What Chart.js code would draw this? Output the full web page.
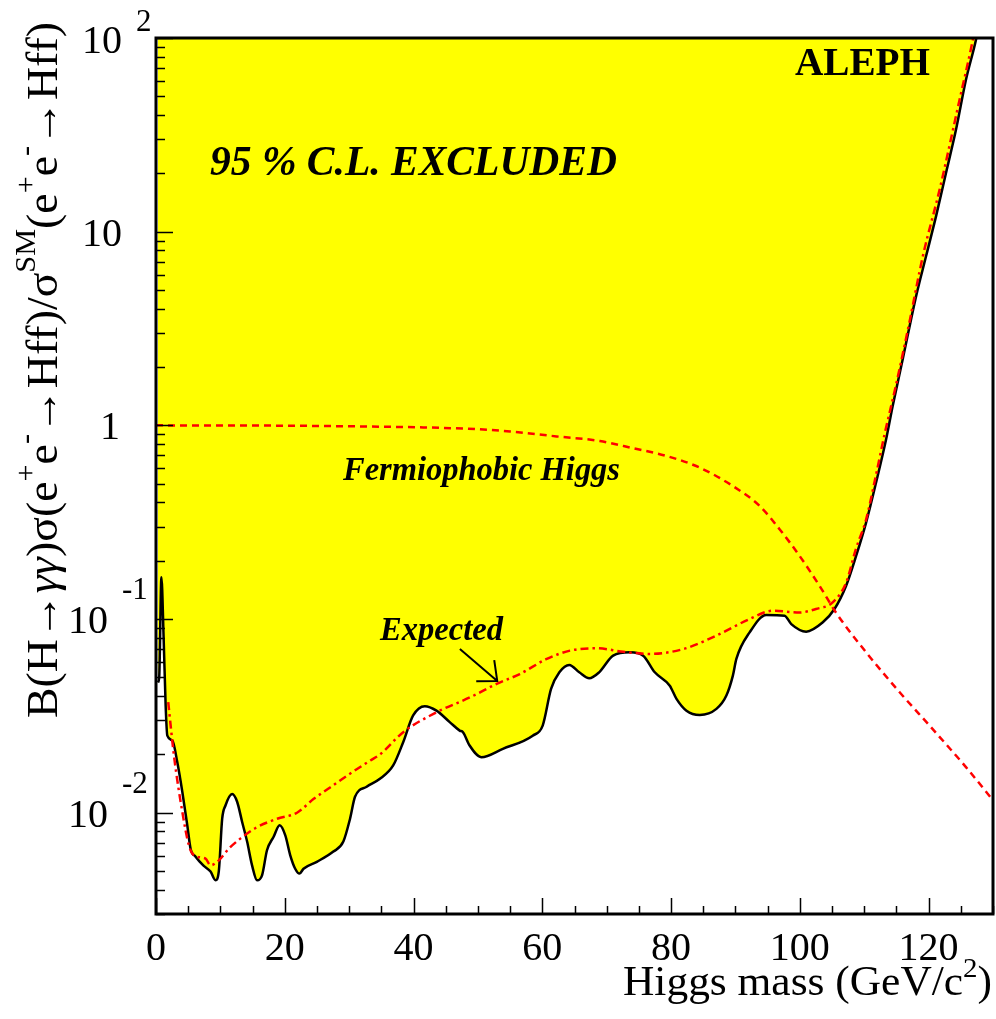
<!DOCTYPE html>
<html>
<head>
<meta charset="utf-8">
<script src="https://cdn.jsdelivr.net/npm/chart.js@4.4.1/dist/chart.umd.min.js"></script>
<style>
html,body{margin:0;padding:0;background:#fff;}
#wrap{width:996px;height:1019px;position:relative;}
canvas{display:block;}
</style>
</head>
<body>
<div id="wrap"><canvas id="c" width="996" height="1019"></canvas></div>
<script>
// ---- data ----
const obsMass = [0.3, 0.5, 0.84, 1.19, 1.5, 1.76, 2.54, 3.31, 4.09, 4.86, 5.37, 6.15, 7.38, 8.47, 9.24, 9.75, 10.28, 10.79, 11.83, 12.6, 13.37, 14.15, 14.92, 15.7, 16.47, 17.24, 18.27, 19.2, 20.08, 20.85, 21.62, 22.29, 22.91, 24.98, 27.55, 29.1, 30.14, 30.91, 32.72, 34.78, 36.84, 38.39, 39.94, 41.75, 43.56, 45.62, 47.17, 47.68, 48.71, 50.52, 53.87, 58.51, 60.06, 61.36, 62.65, 64.19, 65.74, 67.29, 68.83, 71.0, 73.6, 75.66, 77.47, 79.8, 80.84, 82.39, 84.45, 87.04, 88.59, 89.6, 90.14, 92.2, 94.79, 97.63, 98.67, 100.99, 103.57, 105.38, 107.19, 108.74, 110.29, 111.84, 113.4, 114.42, 115.97, 118.05, 119.6, 121.15, 122.7, 124.25, 125.8, 127.35, 128.0];
const obsLimit = [0.047, 0.0502, 0.1644, 0.0789, 0.0356, 0.0250, 0.0236, 0.0182, 0.0128, 0.00861, 0.00652, 0.00593, 0.00533, 0.00497, 0.00448, 0.00497, 0.00931, 0.0109, 0.0125, 0.0114, 0.00899, 0.00710, 0.00535, 0.00448, 0.00475, 0.00640, 0.00752, 0.00861, 0.00764, 0.00603, 0.00514, 0.00485, 0.00514, 0.00558, 0.00630, 0.00710, 0.00931, 0.01208, 0.01361, 0.01496, 0.01754, 0.02312, 0.03177, 0.03548, 0.03365, 0.02938, 0.02655, 0.02606, 0.02223, 0.01936, 0.02138, 0.02500, 0.02818, 0.04355, 0.05309, 0.05794, 0.05309, 0.04943, 0.05309, 0.06471, 0.06730, 0.06471, 0.05309, 0.04529, 0.03873, 0.03365, 0.03199, 0.03436, 0.04027, 0.05105, 0.06223, 0.08531, 0.1050, 0.1040, 0.0942, 0.0861, 0.0962, 0.1127, 0.1486, 0.2118, 0.3148, 0.5070, 0.847, 1.259, 2.188, 4.634, 7.464, 11.99, 20.09, 33.57, 60.81, 97.7, 126];

const expMass = [1.9, 2.79, 4.09, 5.12, 5.89, 7.7, 8.48, 9.77, 11.3, 13.1, 15.46, 18.82, 21.9, 24.5, 27.1, 29.7, 33.3, 34.8, 38.4, 43.6, 48.8, 52.9, 56.5, 60.7, 64.3, 68.4, 72.6, 76.7, 81.9, 87.0, 92.2, 95.8, 99.95, 102.5, 105.1, 107.2, 108.7, 110.3, 111.8, 113.1, 114.9, 117.0, 119.1, 121.7, 124.8, 126.7, 127.5];
const expLimit = [0.0372, 0.01972, 0.01009, 0.00678, 0.00603, 0.00579, 0.00535, 0.00568, 0.00652, 0.00735, 0.00834, 0.00931, 0.0100, 0.01180, 0.01355, 0.01556, 0.01862, 0.0200, 0.02606, 0.03304, 0.03945, 0.04624, 0.05200, 0.06223, 0.06871, 0.07063, 0.06776, 0.06607, 0.06998, 0.08204, 0.1000, 0.1104, 0.1081, 0.1127, 0.1219, 0.1545, 0.2296, 0.3273, 0.5483, 0.881, 1.596, 3.381, 7.464, 16.44, 47.86, 92.0, 126];

const fphMass = [0, 10, 20, 30, 41.5, 50, 55, 62.2, 68.95, 74.1, 79.3, 84.45, 89.6, 93.75, 96.85, 99.95, 103.05, 105.6, 110.3, 115.5, 120.6, 125.8, 130];
const fphBR = [1.0, 0.999, 0.996, 0.989, 0.976, 0.955, 0.93, 0.877, 0.830, 0.762, 0.695, 0.605, 0.486, 0.384, 0.291, 0.212, 0.1486, 0.1081, 0.0673, 0.0419, 0.0271, 0.0172, 0.0116];

const xTickValues = [0, 20, 40, 60, 80, 100, 120];
const xMinorStep = 5;
const yTickExponents = [-2, -1, 0, 1, 2];

// ---- helpers ----
const SERIF = '"Liberation Serif", "Times New Roman", serif';
function fnt(size, style) { return (style ? style + ' ' : '') + size + 'px ' + SERIF; }

function drawRich(ctx, segs, x, y, align, targetLen) {
  let total = 0;
  segs.forEach(s => { ctx.font = fnt(s.size, s.style); s.w = ctx.measureText(s.t).width; total += s.w; });
  ctx.save();
  ctx.translate(x, y);
  let k = 1;
  if (targetLen) { k = targetLen / total; ctx.scale(k, 1); }
  let cx = align === 'right' ? -total : align === 'center' ? -total / 2 : 0;
  ctx.textAlign = 'left';
  ctx.textBaseline = 'alphabetic';
  segs.forEach(s => { ctx.font = fnt(s.size, s.style); ctx.fillText(s.t, cx, -(s.rise || 0)); cx += s.w; });
  ctx.restore();
}

function fitText(ctx, text, font, x, y, targetW) {
  ctx.save();
  ctx.font = font;
  const w = ctx.measureText(text).width;
  ctx.translate(x, y);
  ctx.scale(targetW / w, 1);
  ctx.textAlign = 'left';
  ctx.textBaseline = 'alphabetic';
  ctx.fillText(text, 0, 0);
  ctx.restore();
}

const decor = {
  id: 'decor',
  afterDraw(chart) {
    const ctx = chart.ctx;
    const a = chart.chartArea;
    const xs = chart.scales.x, ys = chart.scales.y;
    ctx.save();
    ctx.fillStyle = '#000';
    ctx.strokeStyle = '#000';

    // ticks (inward)
    ctx.lineWidth = 1.5;
    ctx.beginPath();
    for (let m = xs.min; m <= xs.max + 1e-9; m += xMinorStep) {
      const px = Math.round(xs.getPixelForValue(m)) + 0.5;
      const len = (m % 20 === 0) ? 16 : 8;
      ctx.moveTo(px, a.bottom); ctx.lineTo(px, a.bottom - len);
    }
    for (let e = -3; e <= 2; e++) {
      for (let k = 1; k <= 9; k++) {
        const v = k * Math.pow(10, e);
        if (v < ys.min * 0.999 || v > ys.max * 1.001) continue;
        const py = Math.round(ys.getPixelForValue(v)) + 0.5;
        const len = (k === 1) ? 17 : 9;
        ctx.moveTo(a.left, py); ctx.lineTo(a.left + len, py);
      }
    }
    ctx.stroke();

    // frame
    ctx.lineWidth = 3;
    ctx.strokeRect(a.left, a.top, a.right - a.left, a.bottom - a.top);

    // x tick labels
    ctx.font = fnt(40);
    ctx.textAlign = 'center';
    ctx.textBaseline = 'alphabetic';
    xTickValues.forEach(v => {
      ctx.fillText(String(v), xs.getPixelForValue(v), a.bottom + 46);
    });

    // y tick labels
    yTickExponents.forEach(e => {
      const py = ys.getPixelForValue(Math.pow(10, e));
      ctx.font = fnt(40);
      if (e === 0) {
        ctx.textAlign = 'right';
        ctx.fillText('1', a.left - 36, py + 14);
      } else if (e === 1) {
        ctx.textAlign = 'right';
        ctx.fillText('10', a.left - 34, py + 14);
      } else if (e > 1) {
        ctx.textAlign = 'right';
        ctx.fillText('10', a.left - 34, py + 15);
        ctx.font = fnt(31);
        ctx.textAlign = 'left';
        ctx.fillText(String(e), a.left - 20, py - 7);
      } else {
        ctx.textAlign = 'right';
        ctx.fillText('10', a.left - 48, py + 14);
        ctx.font = fnt(31);
        ctx.textAlign = 'left';
        ctx.fillText('-' + String(-e), a.left - 34, py - 20);
      }
    });

    // x axis title
    drawRich(ctx, [
      { t: 'Higgs mass (GeV/c', size: 42 },
      { t: '2', size: 28, rise: 18 },
      { t: ')', size: 42 }
    ], 992, 995, 'right', 369);

    // y axis title (rotated)
    ctx.save();
    ctx.translate(57, 718);
    ctx.rotate(-Math.PI / 2);
    const M = 44, S = 29, R = 22;
    drawRich(ctx, [
      { t: 'B(H', size: M }, { t: '\u2192', size: M }, { t: '\u03b3\u03b3', size: M, style: 'italic' },
      { t: ')\u03c3(e', size: M }, { t: '+', size: S, rise: R }, { t: 'e', size: M }, { t: '-', size: S, rise: R },
      { t: '\u2192', size: M }, { t: 'Hff)/\u03c3', size: M }, { t: 'SM', size: S, rise: R },
      { t: '(e', size: M }, { t: '+', size: S, rise: R }, { t: 'e', size: M }, { t: '-', size: S, rise: R },
      { t: '\u2192', size: M }, { t: 'Hff)', size: M }
    ], 0, 0, 'left', 696);
    ctx.restore();

    // annotations
    fitText(ctx, 'ALEPH', fnt(40, 'bold'), 795, 75, 135);
    fitText(ctx, '95 % C.L. EXCLUDED', fnt(42, 'italic bold'), 210, 175, 407);
    fitText(ctx, 'Fermiophobic Higgs', fnt(33, 'italic bold'), 343, 480, 277);
    fitText(ctx, 'Expected', fnt(33, 'italic bold'), 380, 640, 123);

    // arrow pointing at the expected curve
    const x0 = xs.getPixelForValue(47.2), y0 = ys.getPixelForValue(0.070);
    const x1 = xs.getPixelForValue(53.0), y1 = ys.getPixelForValue(0.0479);
    const ang = Math.atan2(y0 - y1, x0 - x1);
    const hl = 21, ha = 0.72;
    ctx.lineWidth = 2;
    ctx.beginPath();
    ctx.moveTo(x0, y0); ctx.lineTo(x1, y1);
    ctx.moveTo(x1 + hl * Math.cos(ang - ha), y1 + hl * Math.sin(ang - ha));
    ctx.lineTo(x1, y1);
    ctx.lineTo(x1 + hl * Math.cos(ang + ha), y1 + hl * Math.sin(ang + ha));
    ctx.stroke();

    ctx.restore();
  }
};

const toPts = (xsArr, ysArr) => xsArr.map((m, i) => ({ x: m, y: ysArr[i] }));

new Chart(document.getElementById('c'), {
  type: 'line',
  data: {
    datasets: [
      {
        label: 'Fermiophobic Higgs',
        data: toPts(fphMass, fphBR),
        borderColor: '#ff0000',
        borderWidth: 2.5,
        borderDash: [7, 5],
        pointRadius: 0,
        fill: false,
        cubicInterpolationMode: 'monotone',
        clip: 0
      },
      {
        label: 'Expected',
        data: toPts(expMass, expLimit),
        borderColor: '#ff0000',
        borderWidth: 2.5,
        borderDash: [8, 4, 2.5, 4],
        pointRadius: 0,
        fill: false,
        cubicInterpolationMode: 'monotone',
        clip: 0
      },
      {
        label: 'Observed',
        data: toPts(obsMass, obsLimit),
        borderColor: '#000000',
        borderWidth: 2.5,
        backgroundColor: '#ffff00',
        pointRadius: 0,
        fill: 'end',
        cubicInterpolationMode: 'monotone',
        clip: 0
      }
    ]
  },
  options: {
    responsive: false,
    devicePixelRatio: 1,
    animation: false,
    events: [],
    layout: { padding: { left: 156, right: 3, top: 38, bottom: 105 } },
    scales: {
      x: { type: 'linear', min: 0, max: 130, display: false },
      y: { type: 'logarithmic', min: 0.003, max: 100, display: false }
    },
    plugins: {
      legend: { display: false },
      tooltip: { enabled: false },
      filler: { propagate: false, drawTime: 'beforeDatasetsDraw' }
    }
  },
  plugins: [decor]
});
</script>
</body>
</html>
